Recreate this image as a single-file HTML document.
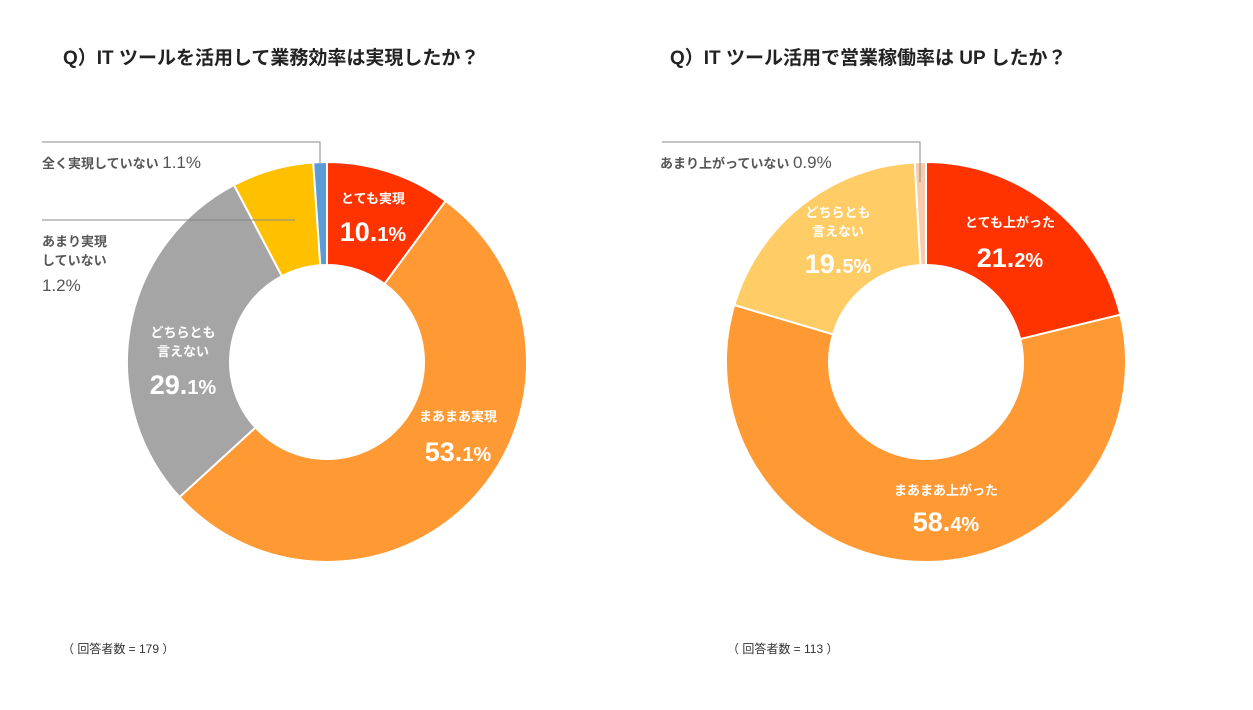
<!DOCTYPE html>
<html><head><meta charset="utf-8">
<style>
body{margin:0;background:#fff;width:1253px;height:705px;overflow:hidden;font-family:"Liberation Sans","Noto Sans CJK JP",sans-serif;}
svg text{font-family:"Liberation Sans","Noto Sans CJK JP",sans-serif;}
</style></head>
<body>
<svg id="c" width="1253" height="705">
<text x="63" y="64" font-size="19" font-weight="bold" fill="#222">Q）IT ツールを活用して業務効率は実現したか？</text>
<text x="670" y="64" font-size="19" font-weight="bold" fill="#222">Q）IT ツール活用で営業稼働率は UP したか？</text>
<text x="62" y="653" font-size="12" fill="#333">（ 回答者数 = 179 ）</text>
<text x="727" y="653" font-size="12" fill="#333">（ 回答者数 = 113 ）</text>
<g id="g1"></g><g id="g2"></g>
<polyline points="320,163 320,142 42,142" fill="none" stroke="#888" stroke-width="1"/>
<line x1="295" y1="220" x2="42" y2="220" stroke="#888" stroke-width="1"/>
<polyline points="920,182 920,142 662,142" fill="none" stroke="#888" stroke-width="1"/>
<text x="42" y="168" font-size="13" fill="#555" font-weight="bold">全く実現していない <tspan font-size="17" font-weight="normal">1.1%</tspan></text>
<text x="42" y="246" font-size="13" fill="#555" font-weight="bold">あまり実現</text>
<text x="42" y="265" font-size="13" fill="#555" font-weight="bold">していない</text>
<text x="42" y="291" font-size="17" fill="#555">1.2%</text>
<text x="660" y="168" font-size="13" fill="#555" font-weight="bold">あまり上がっていない <tspan font-size="17" font-weight="normal">0.9%</tspan></text>
</svg>
<script>
const cats1=["とても実現","まあまあ実現","どちらとも言えない","あまり実現していない","全く実現していない"];
const vals1=[10.1,53.1,29.1,6.6,1.1];
const cats2=["とても上がった","まあまあ上がった","どちらとも言えない","あまり上がっていない"];
const vals2=[21.2,58.4,19.5,0.9];
const cols1=["#FF3300","#FF9933","#A5A5A5","#FFC000","#5B9BD5"];
const cols2=["#FF3300","#FF9933","#FFCC66","#F8CBAD"];
const NS="http://www.w3.org/2000/svg";
function pt(cx,cy,r,a){return [cx+r*Math.sin(a),cy-r*Math.cos(a)];}
function donut(g,cx,cy,R,r,vals,cols,cats,labels){
  const tot=vals.reduce((a,b)=>a+b,0);let a0=0;
  vals.forEach((v,i)=>{
    const a1=a0+v/tot*2*Math.PI;const lg=(a1-a0)>Math.PI?1:0;
    const p1=pt(cx,cy,R,a0),p2=pt(cx,cy,R,a1),p3=pt(cx,cy,r,a1),p4=pt(cx,cy,r,a0);
    const p=document.createElementNS(NS,"path");
    p.setAttribute("d",`M${p1}A${R},${R} 0 ${lg} 1 ${p2}L${p3}A${r},${r} 0 ${lg} 0 ${p4}Z`);
    p.setAttribute("fill",cols[i]);p.setAttribute("stroke","#fff");p.setAttribute("stroke-width","2");
    
    
    g.appendChild(p);
    const L=labels[i];
    if(L){
      L.lines.forEach((s,j)=>{
        const t=document.createElementNS(NS,"text");
        t.setAttribute("x",L.x);t.setAttribute("y",L.y+j*19);
        t.setAttribute("text-anchor","middle");t.setAttribute("font-size","13");t.setAttribute("font-weight","bold");t.setAttribute("fill","#fff");
        t.textContent=s;
        
        
        g.appendChild(t);
      });
      const t=document.createElementNS(NS,"text");
      t.setAttribute("x",L.x);t.setAttribute("y",L.vy);t.setAttribute("text-anchor","middle");t.setAttribute("font-weight","bold");t.setAttribute("fill","#fff");
      const s=v.toFixed(1).split(".");
      t.innerHTML=`<tspan font-size="27">${s[0]}.</tspan><tspan font-size="20">${s[1]}%</tspan>`;
      
      
      g.appendChild(t);
    }
    a0=a1;
  });
}
donut(document.getElementById("g1"),327,362,200,97,vals1,cols1,cats1,[
 {lines:["とても実現"],x:373,y:203,vy:241},
 {lines:["まあまあ実現"],x:458,y:421,vy:461},
 {lines:["どちらとも","言えない"],x:183,y:337,vy:394},null,null]);
donut(document.getElementById("g2"),926,362,200,97,vals2,cols2,cats2,[
 {lines:["とても上がった"],x:1010,y:227,vy:267},
 {lines:["まあまあ上がった"],x:946,y:495,vy:531},
 {lines:["どちらとも","言えない"],x:838,y:217,vy:273},null]);
</script>
</body></html>
